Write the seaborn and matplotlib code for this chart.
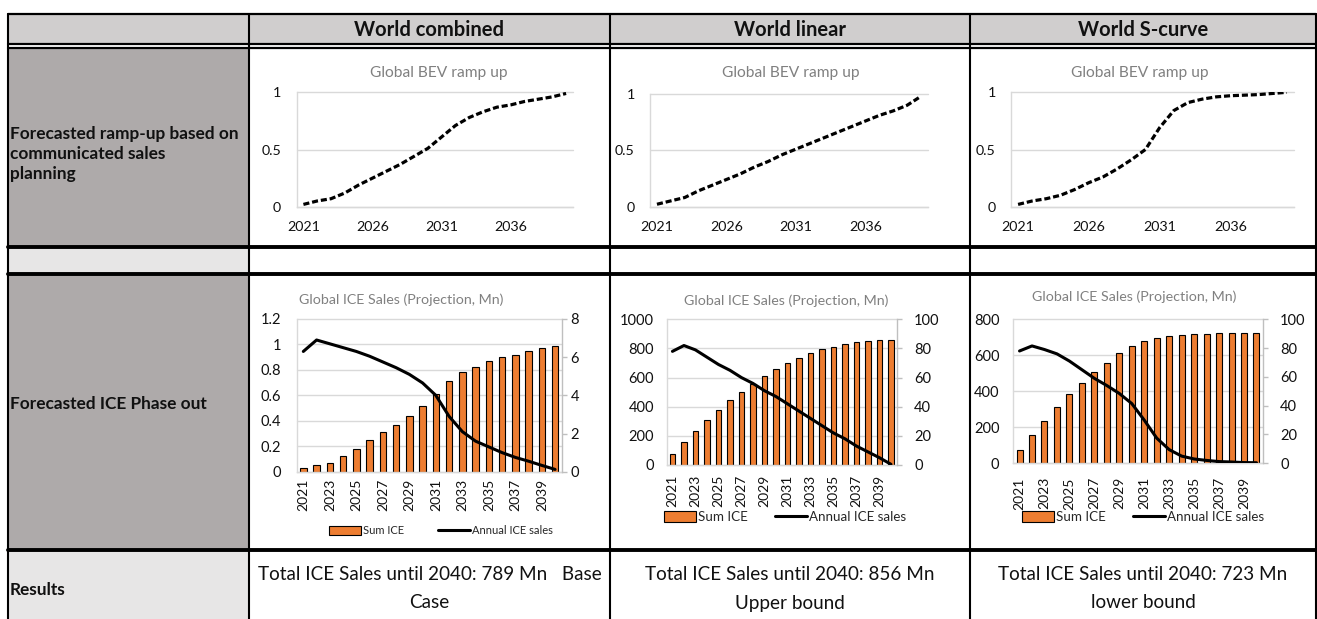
import numpy as np
import pandas as pd
import matplotlib
matplotlib.use("Agg")
import matplotlib.pyplot as plt
from matplotlib.patches import Rectangle
from matplotlib.lines import Line2D
import seaborn as sns

# ---------------------------------------------------------------- data
years = list(range(2021, 2041))

scenario_titles = ["World combined", "World linear", "World S-curve"]
row_labels = ["Forecasted ramp-up based on\ncommunicated sales\nplanning",
              "Forecasted ICE Phase out",
              "Results"]
result_lines = [["Total ICE Sales until 2040: 789 Mn   Base", "Case"],
                ["Total ICE Sales until 2040: 856 Mn", "Upper bound"],
                ["Total ICE Sales until 2040: 723 Mn", "lower bound"]]

bev_title = "Global BEV ramp up"
ice_title = "Global ICE Sales (Projection, Mn)"
legend_labels = ["Sum ICE", "Annual ICE sales"]

# BEV share ramp-up (0..1)
bev_combined = [0.02, 0.05, 0.07, 0.12, 0.19, 0.25, 0.31, 0.37, 0.44, 0.51,
                0.61, 0.71, 0.78, 0.83, 0.87, 0.89, 0.92, 0.94, 0.96, 0.99]
bev_linear = [0.02, 0.05, 0.08, 0.14, 0.19, 0.24, 0.29, 0.35, 0.40, 0.46,
              0.51, 0.56, 0.61, 0.66, 0.71, 0.76, 0.81, 0.85, 0.90, 0.98]
bev_scurve = [0.02, 0.05, 0.07, 0.10, 0.15, 0.21, 0.26, 0.33, 0.41, 0.50,
              0.69, 0.84, 0.91, 0.94, 0.96, 0.97, 0.975, 0.98, 0.99, 1.00]

# ICE projections: cumulative sum (bars, left axis) and annual sales (line, right axis)
sum_ice_combined = [0.03, 0.05, 0.07, 0.12, 0.18, 0.25, 0.31, 0.37, 0.44, 0.52,
                    0.61, 0.71, 0.78, 0.82, 0.87, 0.90, 0.92, 0.95, 0.97, 0.99]
annual_ice_combined = [6.3, 6.9, 6.7, 6.5, 6.3, 6.05, 5.75, 5.45, 5.1, 4.65,
                       4.0, 2.9, 2.1, 1.6, 1.3, 1.0, 0.75, 0.55, 0.33, 0.12]

sum_ice_linear = [75, 160, 236, 309, 378, 446, 503, 556, 611, 657,
                  702, 737, 767, 794, 810, 828, 847, 851, 856, 856]
annual_ice_linear = [78, 82, 79, 74, 69, 65, 60, 56, 51, 47,
                     42, 37, 32, 27, 22, 18, 13, 9, 5, 0.5]

sum_ice_scurve = [74, 157, 235, 315, 383, 448, 509, 559, 611, 652,
                  680, 698, 707, 711, 717, 717, 722, 722, 722, 722]
annual_ice_scurve = [78, 81.5, 79, 76, 71, 65, 59, 54, 48.5, 41.5,
                     30, 17.5, 9.5, 5, 3, 2, 1.2, 0.9, 0.5, 0.4]

# ---------------------------------------------------------------- style
sns.set_theme(style="white")
plt.rcParams["font.family"] = ["Lato", "DejaVu Sans"]

ORANGE = "#ED7D31"
GRID = "#D9D9D9"
TITLE_GREY = "#808080"
TEXT = "#111111"

W, H = 1317, 619
fig = plt.figure(figsize=(W / 100, H / 100), dpi=100)

# table canvas in pixel units
bg = fig.add_axes([0, 0, 1, 1])
bg.set_xlim(0, W)
bg.set_ylim(H, 0)
bg.axis("off")

L, C0, C1, C2, R = 8, 249, 610, 970, 1316
T, HB1, HB2, R1, R2, R3, B = 14, 44, 48, 247, 274, 550, 619


def fill(x0, y0, x1, y1, color):
    bg.add_patch(Rectangle((x0, y0), x1 - x0, y1 - y0, facecolor=color,
                           edgecolor="none", zorder=0))


fill(L, T, R, HB1, "#D0CECE")
fill(L, HB2, C0, R1, "#AEAAAA")
fill(L, R1, C0, R2, "#E7E6E6")
fill(L, R2, C0, R3, "#AEAAAA")
fill(L, R3, C0, B, "#E7E6E6")

for y, lw in [(T, 1.6), (HB1, 1.6), (HB2, 1.6), (R1, 2.8), (R2, 2.8), (R3, 2.8)]:
    bg.add_line(Line2D([L, R], [y, y], color="black", lw=lw, zorder=2))
for x in [L, C0, C1, C2, R]:
    bg.add_line(Line2D([x, x], [T, B], color="black", lw=1.5, zorder=2))

col_centers = [(C0 + C1) / 2, (C1 + C2) / 2, (C2 + R) / 2]
for cx, title in zip(col_centers, scenario_titles):
    bg.text(cx, 30, title, ha="center", va="center", fontsize=14.5,
            fontweight="bold", color=TEXT)

bg.text(10, 154, row_labels[0], ha="left", va="center", fontsize=12.4,
        fontweight="bold", color=TEXT, linespacing=1.32)
bg.text(10, 404, row_labels[1], ha="left", va="center", fontsize=12.4,
        fontweight="bold", color=TEXT)
bg.text(10, 590, row_labels[2], ha="left", va="center", fontsize=12.4,
        fontweight="bold", color=TEXT)

for cx, (l1, l2) in zip(col_centers, result_lines):
    for yy, txt in [(575, l1), (603, l2)]:
        bg.text(cx, yy, txt, ha="center", va="center", fontsize=13.6,
                color=TEXT)


def px_axes(x0, y0, x1, y1):
    return fig.add_axes([x0 / W, 1 - y1 / H, (x1 - x0) / W, (y1 - y0) / H])


# ---------------------------------------------------------------- BEV ramp-up charts
def bev_chart(box, values, title_x):
    ax = px_axes(*box)
    ax.set_facecolor("none")
    df = pd.DataFrame({"year": years, "share": values})
    sns.lineplot(data=df, x="year", y="share", ax=ax, color="black",
                 linewidth=2.3)
    ax.lines[0].set_linestyle((0, (1.9, 0.9)))
    ax.set_xlim(2020.5, 2040.5)
    ax.set_ylim(0, 1)
    ax.set_yticks([0, 0.5, 1], ["0", "0.5", "1"])
    ax.set_xticks([2021, 2026, 2031, 2036], ["2021", "2026", "2031", "2036"])
    ax.set_xlabel("")
    ax.set_ylabel("")
    ax.yaxis.grid(True, color=GRID, lw=1)
    for gl in ax.get_ygridlines():
        gl.set_clip_on(False)
    ax.set_axisbelow(True)
    for s in ["top", "right"]:
        ax.spines[s].set_visible(False)
    for s in ["left", "bottom"]:
        ax.spines[s].set_color(GRID)
        ax.spines[s].set_linewidth(1)
    ax.tick_params(axis="y", length=0, pad=11, labelsize=10.3, labelcolor=TEXT)
    ax.tick_params(axis="x", length=0, pad=10.5, labelsize=10.3, labelcolor=TEXT)
    fig.text(title_x / W, 1 - 73 / H, bev_title, ha="center", va="center",
             fontsize=11.2, color=TITLE_GREY)


bev_chart((296.5, 92.3, 573, 206.7), bev_combined, 439)
bev_chart((650, 94, 928, 206.5), bev_linear, 791)
bev_chart((1011, 92.3, 1294, 206.7), bev_scurve, 1140)


# ---------------------------------------------------------------- ICE charts
def ice_chart(box, sums, annual, lticks, llabels, rticks, title_xy, legend_xy,
              lpad, rpad, xpad, legend_size, hlen, colsp):
    ax = px_axes(*box)
    ax.set_facecolor("none")
    df = pd.DataFrame({"year": years, "sum": sums, "annual": annual})
    sns.barplot(data=df, x="year", y="sum", ax=ax, native_scale=True,
                color=ORANGE, saturation=1, width=0.48, errorbar=None,
                edgecolor="black", linewidth=0.8)
    ax.set_xlim(2020.5, 2040.5)
    ax.set_ylim(lticks[0], lticks[-1])
    ax.set_yticks(lticks, llabels)
    ax.set_xticks(years[::2], [str(y) for y in years[::2]], rotation=90)
    ax.set_xlabel("")
    ax.set_ylabel("")
    ax.yaxis.grid(True, color=GRID, lw=1)
    for gl in ax.get_ygridlines():
        gl.set_clip_on(False)
    ax.set_axisbelow(True)
    for s in ["top", "right"]:
        ax.spines[s].set_visible(False)
    for s in ["left", "bottom"]:
        ax.spines[s].set_color(GRID)
        ax.spines[s].set_linewidth(1)
    ax.tick_params(axis="y", length=0, pad=lpad, labelsize=10.5, labelcolor=TEXT)
    ax.tick_params(axis="x", length=0, pad=xpad, labelsize=10, labelcolor=TEXT)

    ax2 = ax.twinx()
    sns.lineplot(data=df, x="year", y="annual", ax=ax2, color="black",
                 linewidth=2.2)
    ax2.set_xlim(2020.5, 2040.5)
    ax2.set_ylim(rticks[0], rticks[-1])
    ax2.set_yticks(rticks, [str(v) for v in rticks])
    ax2.set_ylabel("")
    ax2.set_xlabel("")
    for s in ["top", "left", "bottom"]:
        ax2.spines[s].set_visible(False)
    ax2.spines["right"].set_color("#BFBFBF")
    ax2.spines["right"].set_linewidth(1)
    ax2.tick_params(axis="y", length=3.5, width=1, color="#BFBFBF", pad=rpad,
                    labelsize=10.5, labelcolor=TEXT)
    ax2.grid(False)

    fig.text(title_xy[0] / W, 1 - title_xy[1] / H, ice_title, ha="center",
             va="center", fontsize=10.3, color=TITLE_GREY)

    handles = [Rectangle((0, 0), 1, 1, facecolor=ORANGE, edgecolor="black",
                         linewidth=0.8),
               Line2D([0], [0], color="black", lw=2.2)]
    fig.legend(handles, legend_labels, loc="center",
               bbox_to_anchor=(legend_xy[0] / W, 1 - legend_xy[1] / H),
               ncol=2, frameon=False, fontsize=legend_size, handlelength=hlen,
               handleheight=0.85, handletextpad=0.2, columnspacing=colsp)


ice_chart((296.7, 319, 561.7, 471.7), sum_ice_combined, annual_ice_combined,
          [0, 0.2, 0.4, 0.6, 0.8, 1.0, 1.2],
          ["0", "0.2", "0.4", "0.6", "0.8", "1", "1.2"],
          [0, 2, 4, 6, 8], (401, 300), (441, 531),
          lpad=11, rpad=3, xpad=5, legend_size=8, hlen=2.9, colsp=3.0)
ice_chart((666.7, 319.3, 896.7, 465), sum_ice_linear, annual_ice_linear,
          [0, 200, 400, 600, 800, 1000],
          ["0", "200", "400", "600", "800", "1000"],
          [0, 20, 40, 60, 80, 100], (786, 301), (785, 517),
          lpad=9, rpad=9, xpad=7, legend_size=9.6, hlen=2.4, colsp=2.0)
ice_chart((1013.3, 319.3, 1262.7, 463.3), sum_ice_scurve, annual_ice_scurve,
          [0, 200, 400, 600, 800],
          ["0", "200", "400", "600", "800"],
          [0, 20, 40, 60, 80, 100], (1134, 297), (1143, 517),
          lpad=10, rpad=9, xpad=10, legend_size=9.6, hlen=2.4, colsp=2.0)

fig.savefig("out.png", dpi=100)
